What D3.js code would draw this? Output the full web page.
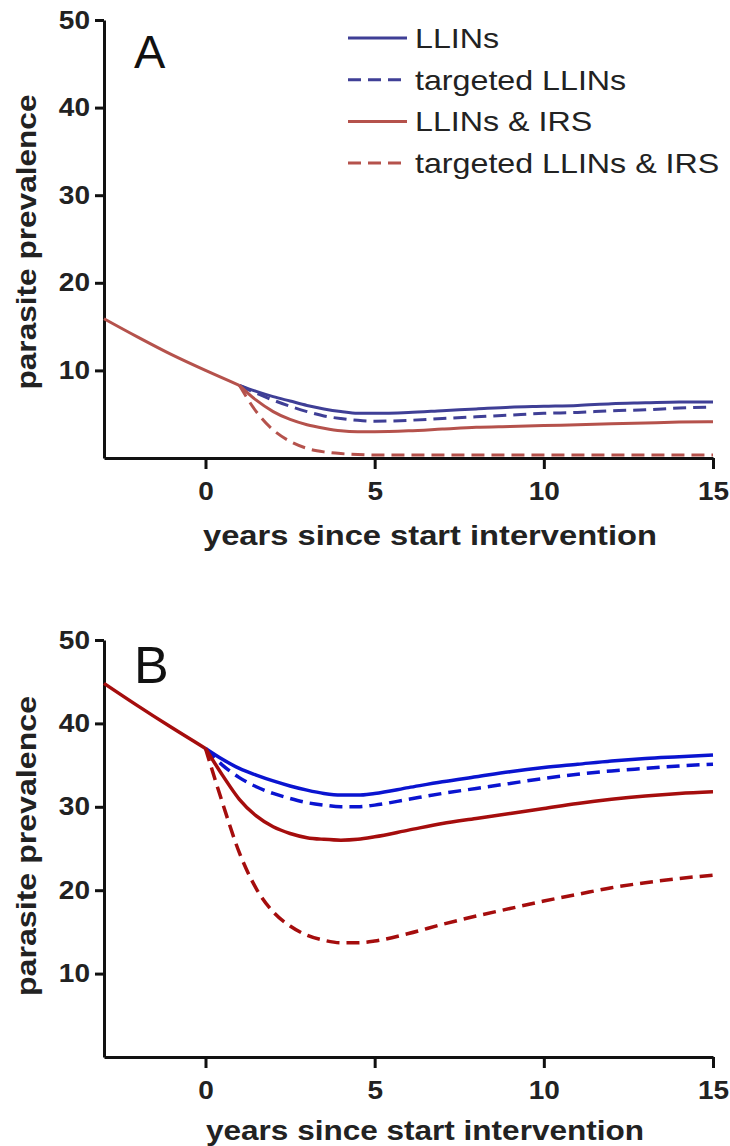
<!DOCTYPE html>
<html>
<head>
<meta charset="utf-8">
<script src="https://cdn.jsdelivr.net/npm/d3@7"></script>
<style>
  body { margin: 0; background: #fff; }
  svg { display: block; font-family: "Liberation Sans", Arial, sans-serif; }
  .axis path, .axis line { stroke: #111; stroke-width: 3; }
  .axis text { font-size: 25px; font-weight: bold; fill: #222; }
</style>
</head>
<body>
<div id="chart"></div>
<script>
// years before the intervention (shared trend) and after it
var preYearsA = [-3, -2, -1, 0, 1];
var preA = [15.9, 13.8, 11.8, 10.0, 8.3];
var yearsA = [1, 1.5, 2, 2.5, 3, 3.5, 4, 4.5, 5, 6, 7, 8, 9, 10, 11, 12, 13, 14, 15];
var llinsA =         [8.3, 7.6, 7.0, 6.5, 6.0, 5.6, 5.3, 5.1, 5.1, 5.2, 5.4, 5.6, 5.8, 5.9, 6.0, 6.2, 6.3, 6.4, 6.4];
var targetedA =      [8.3, 7.4, 6.6, 5.9, 5.3, 4.8, 4.5, 4.3, 4.2, 4.3, 4.5, 4.7, 4.9, 5.1, 5.2, 5.4, 5.5, 5.7, 5.8];
var llinsIrsA =      [8.3, 6.6, 5.3, 4.4, 3.8, 3.4, 3.1, 3.0, 3.0, 3.1, 3.3, 3.5, 3.6, 3.7, 3.8, 3.9, 4.0, 4.1, 4.15];
var targetedIrsA =   [8.3, 5.3, 3.2, 1.9, 1.1, 0.7, 0.5, 0.4, 0.35, 0.35, 0.35, 0.35, 0.35, 0.35, 0.35, 0.35, 0.35, 0.35, 0.35];

var preYearsB = [-3, -2, -1, 0];
var preB = [44.8, 42.1, 39.5, 37.0];
var yearsB = [0, 0.5, 1, 1.5, 2, 2.5, 3, 3.5, 4, 4.5, 5, 6, 7, 8, 9, 10, 11, 12, 13, 14, 15];
var llinsB =       [37.0, 35.7, 34.6, 33.8, 33.1, 32.5, 32.0, 31.6, 31.4, 31.4, 31.6, 32.3, 33.0, 33.6, 34.2, 34.7, 35.1, 35.5, 35.8, 36.0, 36.2];
var targetedB =    [37.0, 35.0, 33.5, 32.4, 31.6, 31.0, 30.5, 30.2, 30.0, 30.0, 30.2, 30.9, 31.6, 32.2, 32.8, 33.4, 33.9, 34.3, 34.6, 34.9, 35.1];
var llinsIrsB =    [37.0, 33.8, 30.9, 28.9, 27.6, 26.8, 26.3, 26.1, 26.0, 26.1, 26.4, 27.2, 28.0, 28.6, 29.2, 29.8, 30.4, 30.9, 31.3, 31.6, 31.8];
var targetedIrsB = [37.0, 30.5, 24.5, 20.2, 17.4, 15.7, 14.6, 14.0, 13.7, 13.7, 13.9, 14.8, 15.9, 16.9, 17.8, 18.7, 19.5, 20.3, 20.9, 21.4, 21.8];

var seriesNames = ["LLINs", "targeted LLINs", "LLINs & IRS", "targeted LLINs & IRS"];
var xTicks = [0, 5, 10, 15];
var yTicks = [10, 20, 30, 40, 50];

var svg = d3.select("#chart").append("svg").attr("width", 730).attr("height", 1146);

// the original lettering is a bit wider than Liberation Sans
function widen(sel, k) {
    sel.each(function() {
        var w = this.getComputedTextLength();
        d3.select(this).attr("textLength", w * k).attr("lengthAdjust", "spacingAndGlyphs");
    });
}

function drawPanel(p) {
    var x = d3.scaleLinear().domain([-3, 15]).range([104, 713]);
    var y = d3.scaleLinear().domain([0, 50]).range([p.bottom, p.top]);
    var g = svg.append("g");

    var xAxis = g.append("g").attr("class", "axis")
        .attr("transform", "translate(0," + p.bottom + ")")
        .call(d3.axisBottom(x).tickValues(xTicks).tickSize(11).tickSizeOuter(0).tickPadding(13));
    var yAxis = g.append("g").attr("class", "axis")
        .attr("transform", "translate(104,0)")
        .call(d3.axisLeft(y).tickValues(yTicks).tickSize(9).tickSizeOuter(0).tickPadding(5));
    widen(xAxis.selectAll("text"), 1.12);
    widen(yAxis.selectAll("text"), 1.12);

    var line = d3.line()
        .x(function(d) { return x(d[0]); })
        .y(function(d) { return y(d[1]); })
        .curve(d3.curveMonotoneX);

    var styles = [
        [p.blue, null], [p.blue, "13,7"], [p.red, null], [p.red, "13,7"]
    ];
    p.series.forEach(function(vals, i) {
        var pts = p.years.map(function(yr, j) { return [yr, vals[j]]; });
        g.append("path").attr("d", line(pts))
            .attr("fill", "none")
            .attr("stroke", styles[i][0])
            .attr("stroke-width", p.width)
            .attr("stroke-dasharray", styles[i][1]);
    });
    var pre = p.preYears.map(function(yr, j) { return [yr, p.pre[j]]; });
    g.append("path").attr("d", line(pre))
        .attr("fill", "none").attr("stroke", p.red).attr("stroke-width", p.width);

    g.append("text").text(p.label)
        .attr("x", 134).attr("y", p.top + p.labelDy)
        .attr("font-size", p.labelSize).attr("fill", "#111");

    g.append("text").text("parasite prevalence")
        .attr("transform", "translate(36," + p.yTitleMid + ") rotate(-90)")
        .attr("text-anchor", "middle")
        .attr("textLength", p.yTitleLen).attr("lengthAdjust", "spacingAndGlyphs")
        .attr("font-size", 27).attr("font-weight", "bold").attr("fill", "#222");

    g.append("text").text("years since start intervention")
        .attr("x", p.xTitleMid).attr("y", p.bottom + p.titleDy)
        .attr("text-anchor", "middle")
        .attr("textLength", p.xTitleLen).attr("lengthAdjust", "spacingAndGlyphs")
        .attr("font-size", 27).attr("font-weight", "bold").attr("fill", "#222");

    return g;
}

var gA = drawPanel({
    top: 20, bottom: 458, years: yearsA, preYears: preYearsA, pre: preA,
    series: [llinsA, targetedA, llinsIrsA, targetedIrsA],
    blue: "#3f3f96", red: "#b5524c", width: 3,
    label: "A", labelSize: 47, labelDy: 48, titleDy: 87,
    yTitleMid: 242, yTitleLen: 295, xTitleMid: 430, xTitleLen: 454
});

drawPanel({
    top: 640, bottom: 1057, years: yearsB, preYears: preYearsB, pre: preB,
    series: [llinsB, targetedB, llinsIrsB, targetedIrsB],
    blue: "#0a14d0", red: "#a50d0d", width: 3.5,
    label: "B", labelSize: 52, labelDy: 43, titleDy: 83,
    yTitleMid: 846, yTitleLen: 300, xTitleMid: 425, xTitleLen: 438
});

// legend (panel A)
var legendColors = ["#3f3f96", "#3f3f96", "#b5524c", "#b5524c"];
var legendDash = [null, "13,7", null, "13,7"];
var legend = gA.append("g");
seriesNames.forEach(function(name, i) {
    var cy = 38 + i * 41.7;
    legend.append("line")
        .attr("x1", 348).attr("x2", 407).attr("y1", cy).attr("y2", cy)
        .attr("stroke", legendColors[i]).attr("stroke-width", 3)
        .attr("stroke-dasharray", legendDash[i]);
    legend.append("text").text(name)
        .attr("x", 415).attr("y", cy + 10)
        .attr("font-size", 28).attr("fill", "#222");
});
widen(legend.selectAll("text"), 1.15);
</script>
</body>
</html>
